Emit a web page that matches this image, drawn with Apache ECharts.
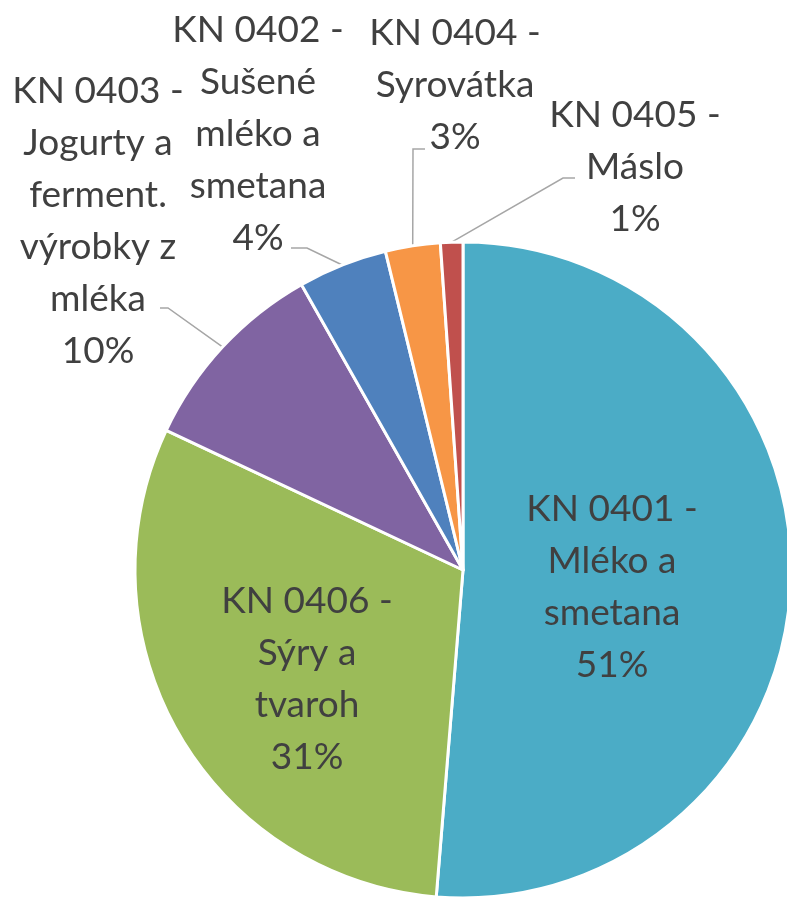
<!DOCTYPE html>
<html>
<head>
<meta charset="utf-8">
<script src="https://cdn.jsdelivr.net/npm/echarts@6/dist/echarts.min.js"></script>
<style>
html,body{margin:0;padding:0;background:#fff;}
#c{width:787px;height:899px;}
</style>
</head>
<body>
<div id="c"></div>
<script>
// Data
const categories = [
  'KN 0401 -\nMléko a\nsmetana',
  'KN 0406 -\nSýry a\ntvaroh',
  'KN 0403 -\nJogurty a\nferment.\nvýrobky z\nmléka',
  'KN 0402 -\nSušené\nmléko a\nsmetana',
  'KN 0404 -\nSyrovátka',
  'KN 0405 -\nMáslo'
];
const values = [51.3, 30.7, 9.8, 4.4, 2.7, 1.1];
const colors = ['#4BACC6', '#9BBB59', '#8064A2', '#4F81BD', '#F79646', '#C0504D'];
// label layout (centre of each label) and leader-line bends near the labels
const labelPos = [[612, 587], [307, 679], [98, 221], [258, 134], [455, 85], [635, 167]];
const leaderBends = [null, null,
  [[168, 308], [160, 308]],
  [[307, 248], [291, 248]],
  [[413, 149], [425, 149]],
  [[563, 178], [575, 178]]
];

const chart = echarts.init(document.getElementById('c'));
chart.setOption({
  animation: false,
  series: [{
    type: 'pie',
    center: [463, 570],
    radius: [0, 328],
    startAngle: 90,
    clockwise: true,
    percentPrecision: 0,
    avoidLabelOverlap: false,
    data: categories.map((n, i) => ({
      name: n, value: values[i],
      itemStyle: { color: colors[i] },
      label: { position: i < 2 ? 'inside' : 'outside' },
      labelLine: { show: i >= 2 }
    })),
    itemStyle: { borderColor: '#fff', borderWidth: 3 },
    label: {
      formatter: '{b}\n{d}%',
      fontFamily: 'Lato',
      fontSize: 37,
      lineHeight: 52,
      color: '#404040',
      align: 'center'
    },
    labelLine: {
      lineStyle: { color: '#A6A6A6', width: 1.5 },
      length: 0,
      length2: 0
    },
    labelLayout: function (params) {
      const i = params.dataIndex;
      const p = labelPos[i];
      const out = { x: p[0], y: p[1], align: 'center', verticalAlign: 'middle' };
      if (leaderBends[i] && params.labelLinePoints) {
        const a = params.labelLinePoints[0];
        out.labelLinePoints = [[a[0], a[1]], leaderBends[i][0], leaderBends[i][1]];
      }
      return out;
    }
  }]
});
</script>
</body>
</html>
